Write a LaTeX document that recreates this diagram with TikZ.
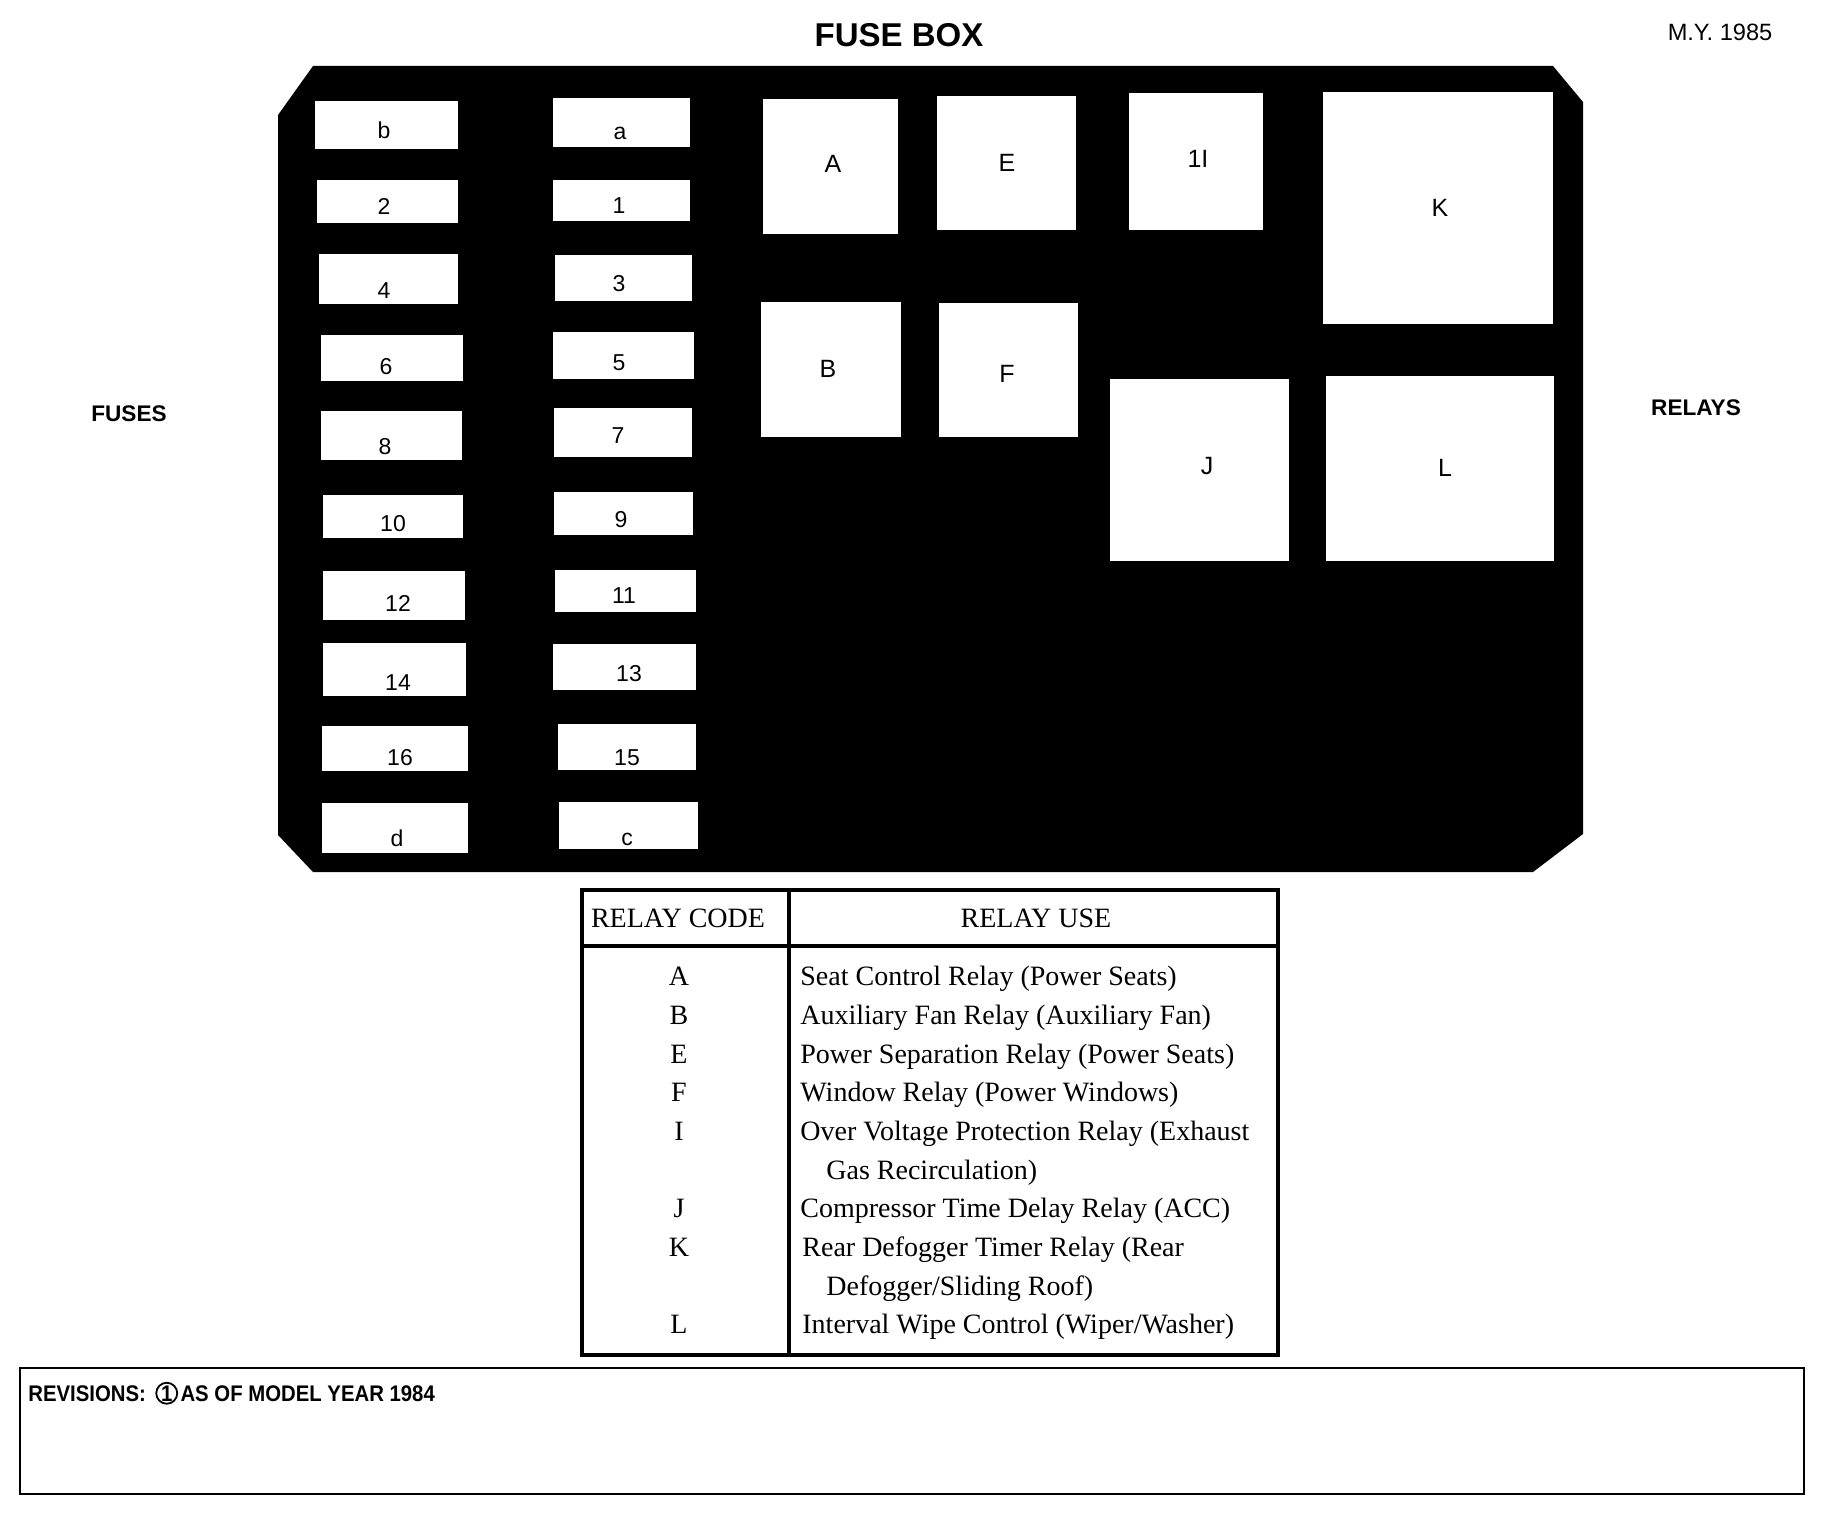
\documentclass[tikz,border=0pt]{standalone}
\usepackage{fontspec}
\setmainfont{Liberation Serif}
\setsansfont{Liberation Sans}
\newfontfamily\revfont[FakeStretch=0.9]{Liberation Sans}
\usetikzlibrary{positioning}

\begin{document}
\begin{tikzpicture}[x=0.5pt, y=-0.5pt,
  lbl/.style={font=\sffamily\fontsize{11.5}{13}\selectfont, inner sep=0pt, text height=8.2pt, text depth=0pt},
  head/.style={font=\sffamily\bfseries\fontsize{11.3}{13}\selectfont, inner sep=0pt},
  cell/.style={font=\fontsize{14}{16}\selectfont, inner sep=0pt, anchor=base west},
  code/.style={font=\fontsize{14}{16}\selectfont, inner sep=0pt, anchor=base},
  rev/.style={font=\revfont\bfseries\fontsize{11.3}{13}\selectfont, inner sep=0pt}]
  \useasboundingbox (0,0) rectangle (1836,1520);
  % ------- titles -------
  \node[head, font=\sffamily\bfseries\fontsize{16.5}{18}\selectfont] (title) at (899,35) {FUSE BOX};
  \node[lbl, font=\sffamily\fontsize{11.8}{13}\selectfont] (year) at (1720,32) {M.Y. 1985};
  \node[head] (fuses) at (129,414) {FUSES};
  \node[head] (relays) at (1696,408) {RELAYS};
  % ------- the box -------
  \fill[black] (313,66) -- (1553,66) -- (1583,102) -- (1583,834) -- (1533,872)
    -- (313,872) -- (278,835) -- (278,115) -- cycle;
  % ------- fuses -------
  \foreach \xa/\ya/\xb/\yb/\lx/\ly/\t in {
      315/101/458/149/384/130/b, 553/98/690/147/620/131/a,
      317/180/458/223/384/206/2, 553/180/690/221/619/205/1,
      319/254/458/304/384/290/4, 555/255/692/301/619/283/3,
      321/335/463/381/386/366/6, 553/332/694/379/619/362/5,
      321/411/462/460/385/446/8, 554/408/692/457/618/435/7,
      323/495/463/538/393/523/10, 554/492/693/535/621/519/9,
      323/571/465/620/398/603/12, 555/570/696/612/624/595/11,
      323/643/466/696/398/682/14, 553/644/696/690/629/673/13,
      322/726/468/771/400/757/16, 558/724/696/770/627/757/15,
      322/803/468/853/397/838/d, 559/802/698/849/627/837/c} {
    \fill[white] (\xa,\ya) rectangle (\xb,\yb);
    \node[lbl] (f-\t) at (\lx,\ly) {\t};
  }
  % ------- relays -------
  \foreach \xa/\ya/\xb/\yb/\lx/\ly/\t in {
      763/99/898/234/833/164/A, 937/96/1076/230/1007/163/E,
      1129/93/1263/230/1198/159/1I, 1323/92/1553/324/1440/208/K,
      761/302/901/437/828/369/B, 939/303/1078/437/1007/374/F,
      1110/379/1289/561/1207/466/J, 1326/376/1554/561/1445/468/L} {
    \fill[white] (\xa,\ya) rectangle (\xb,\yb);
    \node[lbl, font=\sffamily\fontsize{12.5}{14}\selectfont] (r-\t) at (\lx,\ly) {\t};
  }
  % ------- relay table -------
  \draw[line width=1.7pt] (582,890) rectangle (1278,1355);
  \draw[line width=1.7pt] (789,890) -- (789,1355);
  \draw[line width=1.7pt] (582,946) -- (1278,946);
  \node[code, anchor=center] (hcode) at (678,918) {RELAY CODE};
  \node[code, anchor=center] (huse) at (1036,918) {RELAY USE};
  \node[code] (cA) at (679,985) {A};
  \node[code] (cB) at (679,1024) {B};
  \node[code] (cE) at (679,1063) {E};
  \node[code] (cF) at (679,1101) {F};
  \node[code] (cI) at (679,1140) {I};
  \node[code] (cJ) at (679,1217) {J};
  \node[code] (cK) at (679,1256) {K};
  \node[code] (cL) at (679,1333) {L};
  \node[cell] (uA) at (800,985) {Seat Control Relay (Power Seats)};
  \node[cell] (uB) at (800,1024) {Auxiliary Fan Relay (Auxiliary Fan)};
  \node[cell] (uE) at (800,1063) {Power Separation Relay (Power Seats)};
  \node[cell] (uF) at (800,1101) {Window Relay (Power Windows)};
  \node[cell] (uI) at (800,1140) {Over Voltage Protection Relay (Exhaust};
  \node[cell] (uI2) at (826,1179) {Gas Recirculation)};
  \node[cell] (uJ) at (800,1217) {Compressor Time Delay Relay (ACC)};
  \node[cell] (uK) at (802,1256) {Rear Defogger Timer Relay (Rear};
  \node[cell] (uK2) at (826,1295) {Defogger/Sliding Roof)};
  \node[cell] (uL) at (802,1333) {Interval Wipe Control (Wiper/Washer)};
  % ------- revisions -------
  \draw[line width=1.1pt] (20,1368) rectangle (1804,1494);
  \node[rev, anchor=base west] (rev) at (28,1401) {REVISIONS:};
  \node[rev, draw, circle, line width=0.9pt, minimum size=10.5pt, inner sep=0pt,
    right=4.5pt of rev] (one) {1};
  \node[rev, right=1pt of one] (asof) {AS OF MODEL YEAR 1984};
\end{tikzpicture}
\end{document}
